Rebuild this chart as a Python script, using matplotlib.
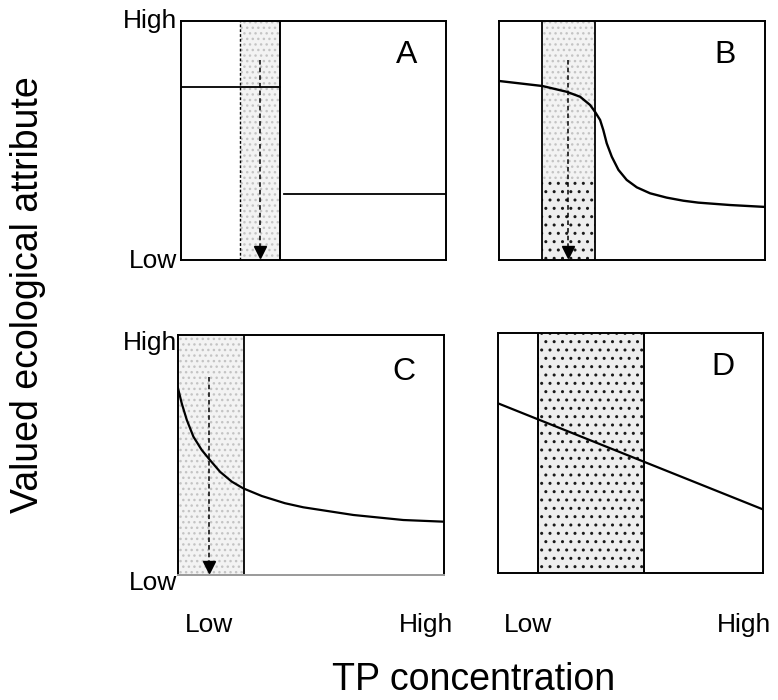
import numpy as np
import matplotlib.pyplot as plt
from matplotlib.patches import Rectangle

plt.rcParams['font.family'] = ['Liberation Sans', 'DejaVu Sans']
plt.rcParams['hatch.linewidth'] = 1.0

# Data (axes units 0..1: x = TP concentration, y = valued attribute)
# A: step change
a_band = (0.223, 0.374)
a_step_x = [0.0, 0.374, 0.389, 1.0]
a_step_y = [0.724, 0.724, 0.276, 0.276]
a_arrow = (0.30, 0.837)

# B: sigmoid-like drop
b_band = (0.163, 0.361)
b_dense_top = 0.335
b_x = [0.0, 0.163, 0.254, 0.305, 0.342, 0.361, 0.380, 0.392, 0.405, 0.424,
       0.449, 0.480, 0.518, 0.568, 0.630, 0.693, 0.749, 0.868, 1.0]
b_y = [0.749, 0.728, 0.704, 0.683, 0.649, 0.620, 0.586, 0.544, 0.488, 0.432,
       0.377, 0.335, 0.304, 0.279, 0.261, 0.248, 0.240, 0.230, 0.222]
b_arrow = (0.26, 0.837)

# C: early decline
c_band = (0.0, 0.248)
c_x = [0.0, 0.014, 0.033, 0.058, 0.089, 0.120, 0.158, 0.202, 0.245, 0.315,
       0.402, 0.471, 0.659, 0.847, 1.0]
c_y = [0.778, 0.715, 0.646, 0.576, 0.521, 0.479, 0.430, 0.389, 0.361, 0.329,
       0.299, 0.282, 0.250, 0.229, 0.222]
c_arrow = (0.118, 0.826)

# D: linear
d_band = (0.152, 0.552)
d_x = [0.0, 1.0]
d_y = [0.707, 0.265]

fig = plt.figure(figsize=(7.78, 7.0), dpi=100)

axA = fig.add_axes([0.2326, 0.6286, 0.3406, 0.3414])
axB = fig.add_axes([0.6414, 0.6286, 0.3419, 0.3414])
axC = fig.add_axes([0.2288, 0.1786, 0.3419, 0.3429])
axD = fig.add_axes([0.6401, 0.1814, 0.3406, 0.3429])

for ax in (axA, axB, axC, axD):
    ax.set_xlim(0, 1)
    ax.set_ylim(0, 1)
    ax.set_xticks([])
    ax.set_yticks([])
    for s in ax.spines.values():
        s.set_linewidth(1.4)
        s.set_color('black')


def band(ax, lo, hi, y0=0.0, y1=1.0, dense=False):
    if dense:
        ax.add_patch(Rectangle((lo, y0), hi - lo, y1 - y0, facecolor='#eeeeee',
                               edgecolor='#1a1a1a', hatch='..', lw=0, zorder=1))
    else:
        ax.add_patch(Rectangle((lo, y0), hi - lo, y1 - y0, facecolor='#f3f3f3',
                               edgecolor='#c4c4c4', hatch='...', lw=0, zorder=1))


def arrow(ax, x, top):
    ax.plot([x, x], [top, 0.04], color='black', lw=1.1, ls=(0, (3, 2)), zorder=3)
    ax.plot([x], [0.035], marker='v', color='black', ms=8, zorder=4)


# A
band(axA, *a_band)
axA.axvline(a_band[0], color='black', lw=1.0, ls=(0, (2, 1.5)), zorder=2)
axA.axvline(a_band[1], color='black', lw=1.4, zorder=2)
axA.plot(a_step_x[:2], a_step_y[:2], color='black', lw=1.3, zorder=3)
axA.plot(a_step_x[2:], a_step_y[2:], color='black', lw=1.3, zorder=3)
arrow(axA, *a_arrow)

# B
band(axB, *b_band)
band(axB, b_band[0], b_band[1], 0.0, b_dense_top, dense=True)
for xv in b_band:
    axB.axvline(xv, color='black', lw=1.3, zorder=2)
axB.plot(b_x, b_y, color='black', lw=1.7, zorder=3, solid_joinstyle='round')
arrow(axB, *b_arrow)

# C
band(axC, *c_band)
axC.axvline(c_band[1], color='black', lw=1.3, zorder=2)
axC.plot(c_x, c_y, color='black', lw=1.6, zorder=3, solid_joinstyle='round')
arrow(axC, *c_arrow)
axC.spines['bottom'].set_color('#9a9a9a')

# D
band(axD, *d_band, dense=True)
for xv in d_band:
    axD.axvline(xv, color='black', lw=1.4, zorder=2)
axD.plot(d_x, d_y, color='black', lw=1.6, zorder=3)

# panel letters
for ax, lab, yb in ((axA, 'A', 0.824), (axB, 'B', 0.824), (axC, 'C', 0.8125), (axD, 'D', 0.825)):
    ax.text(0.85, yb, lab, transform=ax.transAxes, ha='center', va='baseline', fontsize=23)

# y-axis High/Low labels
axA.text(-0.015, 0.971, 'High', transform=axA.transAxes, ha='right', va='baseline', fontsize=19)
axA.text(-0.015, -0.033, 'Low', transform=axA.transAxes, ha='right', va='baseline', fontsize=19)
axC.text(-0.004, 0.9375, 'High', transform=axC.transAxes, ha='right', va='baseline', fontsize=19)
axC.text(-0.004, -0.0625, 'Low', transform=axC.transAxes, ha='right', va='baseline', fontsize=19)

# x-axis Low/High labels
for xf, lab in ((0.2686, 'Low'), (0.5476, 'High'), (0.6787, 'Low'), (0.9563, 'High')):
    fig.text(xf, 0.097, lab, ha='center', va='baseline', fontsize=19)

fig.text(0.036, 0.579, 'Valued ecological attribute', rotation=90,
         ha='center', va='center', fontsize=27)
fig.text(0.609, 0.0143, 'TP concentration', ha='center', va='baseline', fontsize=27)

fig.savefig('out.png', dpi=100)
